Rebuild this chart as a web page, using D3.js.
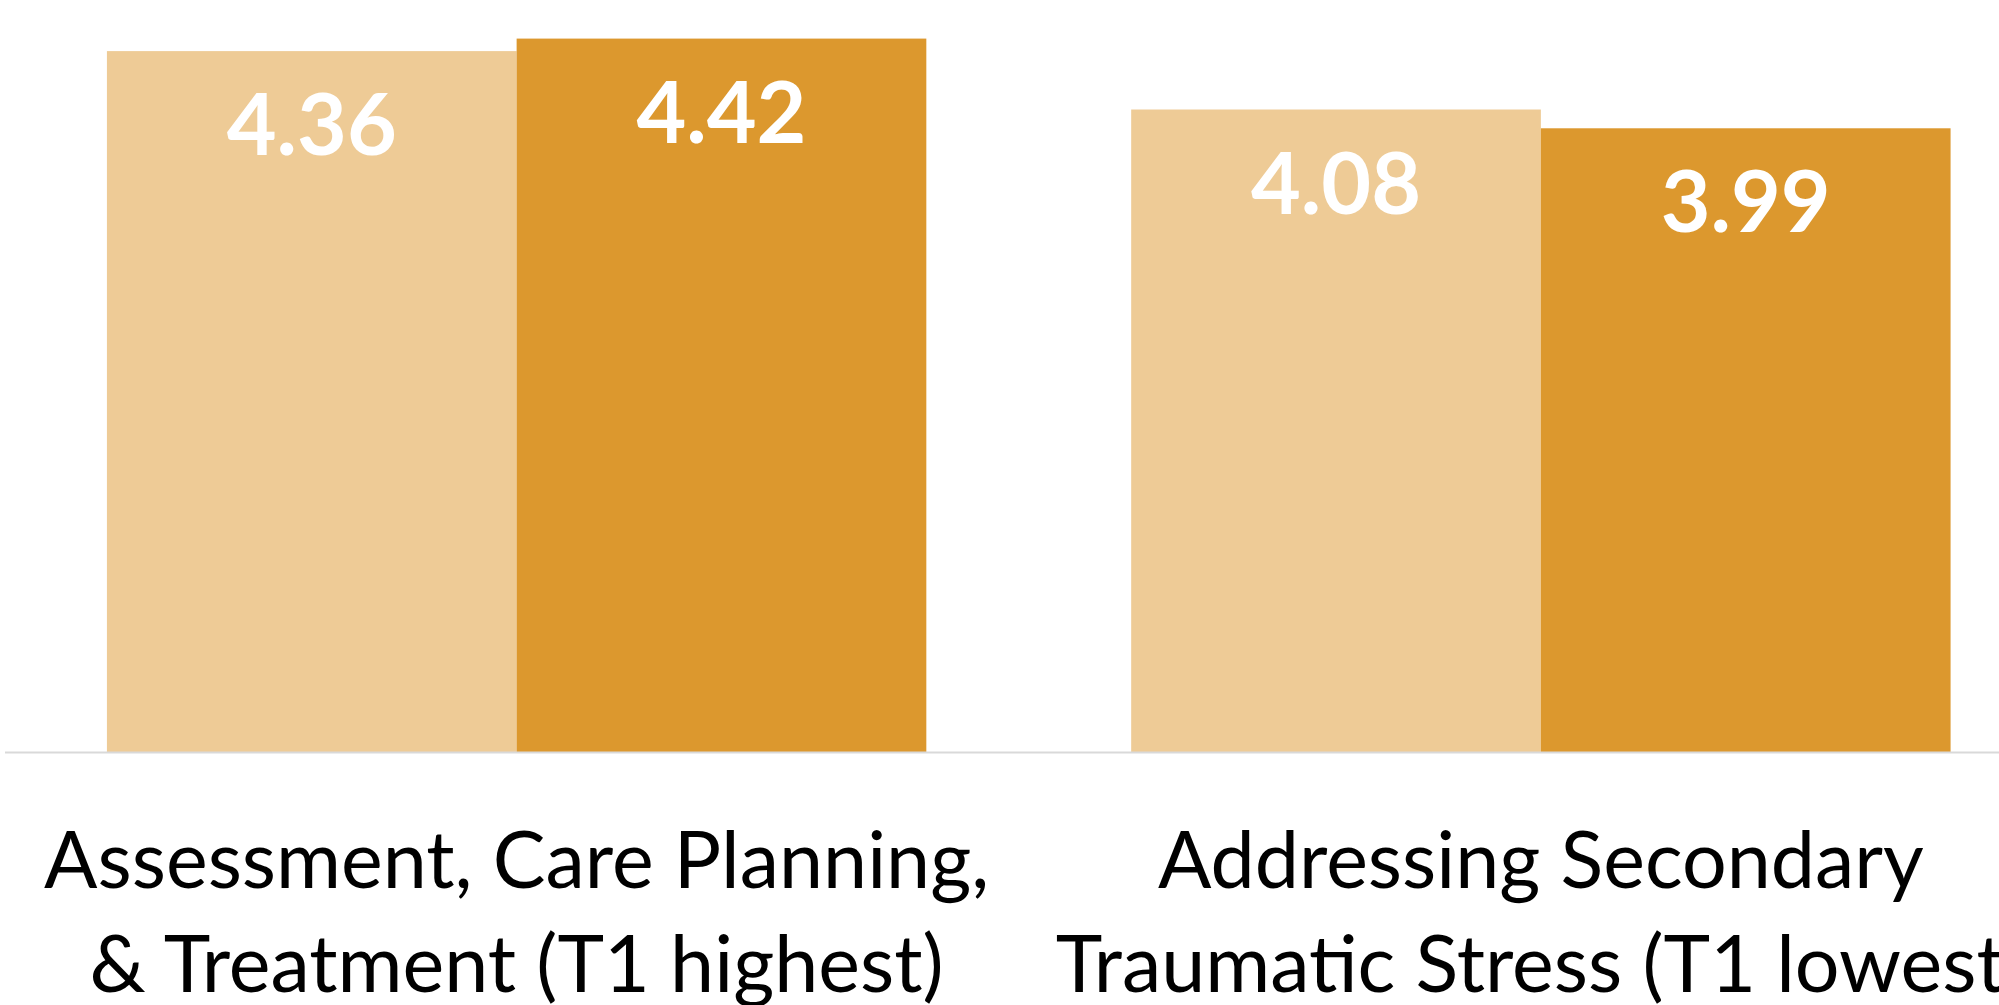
<!DOCTYPE html>
<html>
<head>
<meta charset="utf-8">
<script src="https://cdn.jsdelivr.net/npm/d3@7"></script>
<style>
    html, body { margin: 0; padding: 0; background: #ffffff; overflow: hidden; }
    svg { display: block; }
</style>
</head>
<body>
<div id="chart"></div>
<script>
// --- Data ---
const categories = ["Assessment, Care Planning, & Treatment (T1 highest)",
                    "Addressing Secondary Traumatic Stress (T1 lowest)"];
const categoryLines = [
    ["Assessment, Care Planning,", "& Treatment (T1 highest)"],
    ["Addressing Secondary", "Traumatic Stress (T1 lowest)"]
];
const seriesNames = ["T1", "T2"];
const t1Values = [4.36, 4.08];
const t2Values = [4.42, 3.99];
const yDomain = [1, 5];

document.addEventListener("DOMContentLoaded", () => {
    const width = 1999, height = 1005;
    const baseline = 752;
    const colors = { T1: "#eecb96", T2: "#dc982e" };

    const svg = d3.select("#chart").append("svg")
        .attr("width", width)
        .attr("height", height);

    const data = categories.map((c, i) => ({
        category: c,
        lines: categoryLines[i],
        values: [
            { series: "T1", value: t1Values[i] },
            { series: "T2", value: t2Values[i] }
        ]
    }));

    const x0 = d3.scaleBand()
        .domain(categories)
        .range([4.5, 2053])
        .paddingInner(0.2)
        .paddingOuter(0.1);

    const x1 = d3.scaleBand()
        .domain(seriesNames)
        .range([0, x0.bandwidth()])
        .padding(0);

    const y = d3.scaleLinear()
        .domain(yDomain)
        .range([baseline, baseline - 834.4]);

    // bars
    const groups = svg.selectAll(".group")
        .data(data)
        .enter()
        .append("g")
        .attr("class", "group")
        .attr("transform", (d) => `translate(${x0(d.category)},0)`);

    groups.selectAll("rect")
        .data((d) => d.values)
        .enter()
        .append("rect")
        .attr("x", (d) => x1(d.series))
        .attr("y", (d) => y(d.value))
        .attr("width", x1.bandwidth())
        .attr("height", (d) => baseline - y(d.value))
        .attr("fill", (d) => colors[d.series]);

    // value labels (inside end)
    groups.selectAll(".value-label")
        .data((d) => d.values)
        .enter()
        .append("text")
        .attr("class", "value-label")
        .attr("x", (d) => x1(d.series) + x1.bandwidth() / 2)
        .attr("y", (d) => y(d.value) + 104)
        .attr("text-anchor", "middle")
        .style("font-family", "Lato, 'Open Sans', sans-serif")
        .style("font-weight", "bold")
        .style("font-size", "86px")
        .style("fill", "#ffffff")
        .text((d) => d.value.toFixed(2));

    // axis line only, no ticks
    const axis = svg.append("g")
        .attr("transform", `translate(0,${baseline})`)
        .call(d3.axisBottom(x0).tickSize(0).tickSizeOuter(0));
    axis.selectAll(".tick").remove();
    axis.select(".domain")
        .attr("stroke", "#d9d9d9")
        .attr("stroke-width", 2);

    // category labels
    const labels = svg.selectAll(".cat-label")
        .data(data)
        .enter()
        .append("text")
        .attr("class", "cat-label")
        .attr("text-anchor", "middle")
        .style("font-family", "Lato, 'Open Sans', sans-serif")
        .style("font-size", "79px")
        .style("fill", "#000000");

    labels.selectAll("tspan")
        .data((d) => d.lines.map((l) => ({ line: l, cat: d.category })))
        .enter()
        .append("tspan")
        .attr("x", (d) => x0(d.cat) + x0.bandwidth() / 2)
        .attr("y", (d, i) => 888 + i * 104)
        .text((d) => d.line);
});
</script>
</body>
</html>
